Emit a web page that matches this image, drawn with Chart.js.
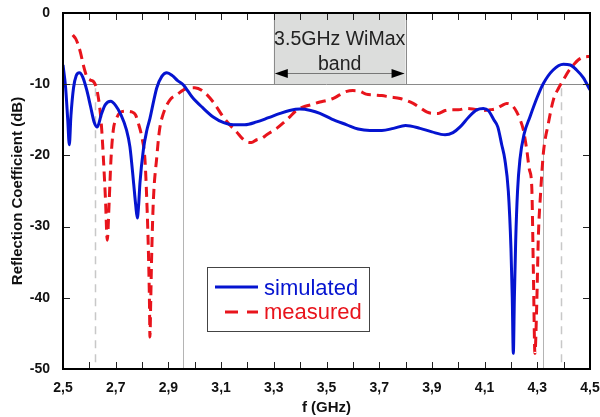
<!DOCTYPE html>
<html><head><meta charset="utf-8">
<script src="https://cdn.jsdelivr.net/npm/chart.js@4.4.1/dist/chart.umd.min.js"></script>
<style>html,body{margin:0;padding:0;background:#fff;}#wrap{width:600px;height:417px;position:relative;}</style>
</head><body><div id="wrap"><canvas id="c" width="600" height="417"></canvas></div>
<script>
// ---- data ----
const simF = [2.500,2.510,2.518,2.524,2.530,2.540,2.550,2.562,2.575,2.590,2.605,2.618,2.630,2.645,2.660,2.681,2.700,2.720,2.740,2.754,2.767,2.776,2.782,2.787,2.792,2.805,2.818,2.830,2.845,2.856,2.875,2.894,2.915,2.935,2.957,2.990,3.030,3.070,3.110,3.146,3.190,3.235,3.280,3.324,3.360,3.399,3.440,3.475,3.520,3.577,3.620,3.665,3.710,3.754,3.800,3.855,3.900,3.950,3.980,4.007,4.040,4.070,4.095,4.114,4.135,4.150,4.165,4.177,4.190,4.200,4.205,4.209,4.213,4.218,4.225,4.234,4.250,4.272,4.300,4.323,4.360,4.399,4.425,4.449,4.475,4.500];
const simDB = [-7.3,-10.5,-15.0,-18.5,-14.5,-10.5,-8.8,-8.4,-9.0,-10.8,-13.2,-15.3,-16.0,-14.3,-12.9,-12.4,-13.0,-14.3,-16.3,-18.8,-23.5,-27.0,-28.8,-27.0,-23.9,-19.2,-16.5,-14.8,-12.2,-10.5,-8.9,-8.4,-8.8,-9.5,-10.1,-11.8,-13.3,-14.6,-15.4,-15.7,-15.7,-15.3,-14.7,-14.1,-13.7,-13.5,-13.7,-14.1,-14.9,-15.7,-16.3,-16.5,-16.5,-16.2,-15.8,-16.2,-16.7,-17.1,-16.8,-16.0,-14.6,-13.6,-13.4,-13.7,-15.0,-16.0,-18.5,-20.6,-25.0,-33.0,-40.0,-47.8,-40.0,-32.0,-25.0,-20.6,-17.0,-14.6,-11.8,-9.9,-8.0,-7.2,-7.3,-8.0,-9.1,-10.8];
const measF = [2.537,2.548,2.558,2.568,2.577,2.590,2.603,2.615,2.623,2.630,2.640,2.647,2.653,2.661,2.668,2.675,2.682,2.691,2.703,2.716,2.740,2.761,2.775,2.786,2.799,2.811,2.818,2.824,2.828,2.830,2.833,2.837,2.843,2.856,2.866,2.881,2.906,2.931,2.969,3.000,3.032,3.070,3.108,3.135,3.159,3.180,3.197,3.215,3.235,3.255,3.273,3.311,3.340,3.361,3.385,3.412,3.440,3.475,3.500,3.526,3.550,3.577,3.600,3.627,3.650,3.678,3.710,3.741,3.779,3.829,3.855,3.880,3.900,3.924,3.950,3.969,4.000,4.032,4.060,4.095,4.120,4.146,4.165,4.184,4.205,4.222,4.235,4.247,4.260,4.270,4.279,4.285,4.291,4.298,4.304,4.313,4.323,4.342,4.361,4.380,4.399,4.418,4.437,4.455,4.475,4.500];
const measDB = [-3.1,-3.6,-4.5,-5.8,-7.3,-8.9,-9.4,-9.6,-10.1,-11.0,-13.5,-16.4,-20.2,-26.0,-31.9,-26.7,-20.6,-16.4,-14.8,-14.0,-13.8,-13.9,-14.3,-15.5,-17.4,-20.6,-26.3,-33.3,-40.3,-45.5,-40.3,-33.3,-26.3,-20.2,-16.5,-14.1,-12.2,-11.5,-10.6,-10.5,-11.0,-12.5,-14.6,-15.8,-16.7,-17.6,-18.1,-18.2,-17.8,-17.6,-17.1,-16.2,-15.3,-14.6,-13.7,-13.2,-12.9,-12.5,-12.3,-12.0,-11.5,-11.0,-10.9,-11.0,-11.4,-11.5,-11.6,-11.8,-12.0,-12.7,-13.3,-13.9,-14.1,-14.1,-13.7,-13.6,-13.6,-13.4,-13.5,-13.7,-13.6,-13.4,-13.0,-12.7,-13.0,-13.9,-15.0,-16.4,-19.2,-22.0,-24.4,-36.1,-47.8,-40.8,-31.4,-25.0,-19.7,-15.5,-12.2,-10.6,-9.4,-8.2,-7.3,-6.6,-6.2,-6.1];
const seriesNames = ['simulated','measured'];
const xTickValues = [2.5,2.7,2.9,3.1,3.3,3.5,3.7,3.9,4.1,4.3,4.5];
const xTickLabels = ['2,5','2,7','2,9','3,1','3,3','3,5','3,7','3,9','4,1','4,3','4,5'];
const xMinorTicks = [2.6,2.7,2.8,2.9,3.0,3.1,3.2,3.3,3.4,3.5,3.6,3.7,3.8,3.9,4.0,4.1,4.2,4.3,4.4];
const yTickValues = [0,-10,-20,-30,-40,-50];
const refLevel = -10;
const solidMarkers = [2.954,4.32];
const dashedMarkers = [2.621,4.391];
const bandStart = 3.3, bandEnd = 3.8;
const bandLabel = ['3.5GHz WiMax','band'];

const FONT = "'Liberation Sans', Arial, sans-serif";
const BLUE = '#0514d0', RED = '#e8141c';

const decor = {
  id:'decor',
  beforeDatasetsDraw(chart){
    const {ctx, chartArea:a, scales:{x,y}} = chart;
    ctx.save();
    const bx0 = x.getPixelForValue(bandStart), bx1 = x.getPixelForValue(bandEnd);
    const by0 = y.getPixelForValue(0), by1 = y.getPixelForValue(refLevel);
    ctx.fillStyle = '#dcdddc';
    ctx.fillRect(bx0, by0, bx1-bx0, by1-by0);
    ctx.strokeStyle = '#8a8a8a'; ctx.lineWidth = 1;
    ctx.beginPath(); ctx.moveTo(Math.round(bx0)+0.5, by0); ctx.lineTo(Math.round(bx0)+0.5, by1);
    ctx.moveTo(Math.round(bx1)+0.5, by0); ctx.lineTo(Math.round(bx1)+0.5, by1); ctx.stroke();
    ctx.fillStyle = '#222'; ctx.font = "19.5px " + FONT; ctx.textAlign='center'; ctx.textBaseline='alphabetic';
    const cx = (bx0+bx1)/2;
    ctx.fillText(bandLabel[0], cx, 45);
    ctx.fillText(bandLabel[1], cx, 70);
    const ay = 73.5;
    ctx.strokeStyle = '#777'; ctx.lineWidth = 1;
    ctx.beginPath(); ctx.moveTo(bx0+2, ay); ctx.lineTo(bx1-2, ay); ctx.stroke();
    ctx.fillStyle = '#000';
    ctx.beginPath(); ctx.moveTo(bx0+1, ay); ctx.lineTo(bx0+14, ay-4.5); ctx.lineTo(bx0+14, ay+4.5); ctx.closePath(); ctx.fill();
    ctx.beginPath(); ctx.moveTo(bx1-1, ay); ctx.lineTo(bx1-14, ay-4.5); ctx.lineTo(bx1-14, ay+4.5); ctx.closePath(); ctx.fill();
    ctx.strokeStyle = '#8a8a8a'; ctx.lineWidth = 1;
    ctx.beginPath(); ctx.moveTo(a.left, Math.round(by1)+0.5); ctx.lineTo(a.right, Math.round(by1)+0.5); ctx.stroke();
    ctx.strokeStyle = '#b4b4b4';
    solidMarkers.forEach(v=>{ const px = Math.round(x.getPixelForValue(v))+0.5;
      ctx.beginPath(); ctx.moveTo(px, by1); ctx.lineTo(px, a.bottom); ctx.stroke(); });
    ctx.strokeStyle = '#c8c8c8'; ctx.lineWidth = 1.5; ctx.setLineDash([8,6]);
    dashedMarkers.forEach(v=>{ const px = Math.round(x.getPixelForValue(v))+0.5;
      ctx.beginPath(); ctx.moveTo(px, by1+4); ctx.lineTo(px, a.bottom); ctx.stroke(); });
    ctx.restore();
  },
  afterDatasetsDraw(chart){
    const {ctx, chartArea:a, scales:{x,y}} = chart;
    ctx.save();
    ctx.strokeStyle = '#222'; ctx.lineWidth = 1;
    ctx.beginPath();
    xMinorTicks.forEach(v=>{ const px = Math.round(x.getPixelForValue(v))+0.5;
      ctx.moveTo(px, a.bottom); ctx.lineTo(px, a.bottom-7);
      ctx.moveTo(px, a.top); ctx.lineTo(px, a.top+7); });
    yTickValues.forEach(v=>{ const py = Math.round(y.getPixelForValue(v))+0.5;
      ctx.moveTo(a.left, py); ctx.lineTo(a.left+7, py);
      ctx.moveTo(a.right, py); ctx.lineTo(a.right-7, py); });
    ctx.stroke();
    ctx.strokeStyle = '#000'; ctx.lineWidth = 2;
    ctx.strokeRect(a.left, a.top, a.right-a.left, a.bottom-a.top);
    ctx.fillStyle = '#fff'; ctx.fillRect(207, 267, 162, 64);
    ctx.strokeStyle = '#444'; ctx.lineWidth = 1; ctx.strokeRect(207.5, 267.5, 162, 64);
    ctx.lineWidth = 3;
    ctx.strokeStyle = BLUE; ctx.beginPath(); ctx.moveTo(215, 287); ctx.lineTo(258, 287); ctx.stroke();
    ctx.strokeStyle = RED; ctx.setLineDash([13,9]); ctx.beginPath(); ctx.moveTo(225, 312); ctx.lineTo(258, 312); ctx.stroke();
    ctx.setLineDash([]);
    ctx.font = "22px " + FONT; ctx.textAlign='left'; ctx.textBaseline='alphabetic';
    ctx.fillStyle = BLUE; ctx.fillText(seriesNames[0], 264, 295);
    ctx.fillStyle = RED; ctx.fillText(seriesNames[1], 264, 319);
    ctx.restore();
  }
};

new Chart(document.getElementById('c'), {
  type:'line',
  data:{ datasets:[
    { label:seriesNames[0], data: simF.map((f,i)=>({x:f, y:simDB[i]})), borderColor:BLUE, borderWidth:3,
      pointRadius:0, cubicInterpolationMode:'monotone', fill:false },
    { label:seriesNames[1], data: measF.map((f,i)=>({x:f, y:measDB[i]})), borderColor:RED, borderWidth:3,
      borderDash:[10,6], pointRadius:0, cubicInterpolationMode:'monotone', fill:false }
  ]},
  options:{
    responsive:false, animation:false, devicePixelRatio:1,
    layout:{ padding:{ top:13, right:10, left:0, bottom:0 } },
    plugins:{ legend:{display:false}, tooltip:{enabled:false} },
    scales:{
      x:{ type:'linear', min:2.5, max:4.5,
        afterBuildTicks: s => { s.ticks = xTickValues.map(v=>({value:v})); },
        ticks:{ callback:(v,i)=>xTickLabels[i], autoSkip:false, maxRotation:0, padding:0, color:'#111',
          font:{family:FONT, size:14, weight:'bold'} },
        grid:{display:false, drawTicks:true, tickLength:11}, border:{display:false},
        title:{display:true, text:'f (GHz)', color:'#111', padding:0, font:{family:FONT, size:15, weight:'bold'}},
        afterFit: s => { s.height = 48; } },
      y:{ type:'linear', min:-50, max:0,
        afterBuildTicks: s => { s.ticks = yTickValues.map(v=>({value:v})); },
        ticks:{ callback:v=>String(v), padding:0, color:'#111', font:{family:FONT, size:14, weight:'bold'} },
        grid:{display:false, drawTicks:true, tickLength:13}, border:{display:false},
        title:{display:true, text:'Reflection Coefficient (dB)', color:'#111', padding:{top:9,bottom:0}, font:{family:FONT, size:15, weight:'bold'}},
        afterFit: s => { s.width = 63; } }
    }
  },
  plugins:[decor]
});
</script></body></html>
